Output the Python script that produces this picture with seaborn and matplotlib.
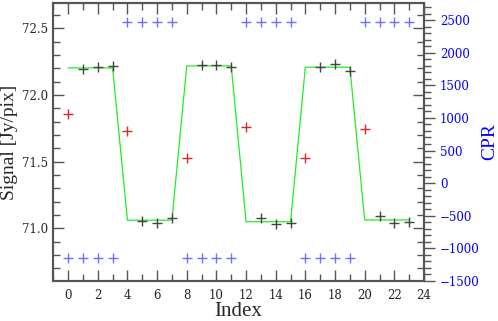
import numpy as np
import pandas as pd
import seaborn as sns
import matplotlib.pyplot as plt
from matplotlib.ticker import MultipleLocator

# data
signal_idx = [1, 2, 3, 5, 6, 7, 9, 10, 11, 13, 14, 15, 17, 18, 19, 21, 22, 23]
signal_val = [72.194, 72.209, 72.220, 71.058, 71.040, 71.078,
              72.224, 72.224, 72.212, 71.076, 71.033, 71.043,
              72.207, 72.232, 72.179, 71.093, 71.040, 71.048]
switch_idx = [0, 4, 8, 12, 16, 20]
switch_val = [71.859, 71.728, 71.531, 71.759, 71.528, 71.744]
model_idx = list(range(24))
model_val = [72.204, 72.204, 72.204, 72.204, 71.061, 71.061, 71.061, 71.061,
             72.219, 72.219, 72.219, 72.219, 71.050, 71.050, 71.050, 71.050,
             72.209, 72.209, 72.209, 72.209, 71.063, 71.063, 71.063, 71.063]
cpr_idx = list(range(24))
cpr_val = [-1147, -1147, -1147, -1147, 2470, 2470, 2470, 2470,
           -1147, -1147, -1147, -1147, 2470, 2470, 2470, 2470,
           -1147, -1147, -1147, -1147, 2470, 2470, 2470, 2470]

sns.set_theme(style="ticks")
plt.rcParams['font.family'] = ['DejaVu Serif']
edge = '#555555'

fig = plt.figure(figsize=(4.98, 3.21), dpi=100)
ax = fig.add_axes([0.107, 0.1255, 0.7444, 0.864])
ax2 = ax.twinx()

sns.scatterplot(x=cpr_idx, y=cpr_val, ax=ax2, marker='+', s=50, linewidth=1,
                color='#7070ff', zorder=2)
sns.lineplot(x=model_idx, y=model_val, ax=ax, color='#22ee22', linewidth=0.9, zorder=3)
sns.scatterplot(x=signal_idx, y=signal_val, ax=ax, marker='+', s=50, linewidth=1,
                color='#444444', zorder=4)
sns.scatterplot(x=switch_idx, y=switch_val, ax=ax, marker='+', s=50, linewidth=1,
                color='#d82828', zorder=4)

ax.set_xlim(-1, 24)
ax.set_ylim(70.607, 72.688)
ax2.set_ylim(-1500, 2760)

ax.xaxis.set_major_locator(MultipleLocator(2))
ax.xaxis.set_minor_locator(MultipleLocator(1))
ax.yaxis.set_major_locator(MultipleLocator(0.5))
ax.yaxis.set_minor_locator(MultipleLocator(0.1))
ax2.yaxis.set_major_locator(MultipleLocator(500))
ax2.yaxis.set_minor_locator(MultipleLocator(100))

ax.tick_params(which='both', direction='in', top=True, right=False, color=edge,
               labelsize=8.5, labelcolor='#222222', width=1)
ax.tick_params(which='major', length=8)
ax.tick_params(which='minor', length=5)
ax.tick_params(axis='x', pad=6)
ax2.tick_params(which='both', direction='out', color=edge, labelsize=8.5,
                labelcolor='blue', width=1)
ax2.tick_params(which='major', length=8)
ax2.tick_params(which='minor', length=5)

# mirrored left ticks on the right spine
sec = ax.secondary_yaxis('right')
sec.yaxis.set_major_locator(MultipleLocator(0.5))
sec.yaxis.set_minor_locator(MultipleLocator(0.1))
sec.tick_params(which='both', direction='in', color=edge, labelright=False, width=1)
sec.tick_params(which='major', length=8)
sec.tick_params(which='minor', length=5)
sec.spines['right'].set_visible(False)

for a in (ax, ax2):
    for s in a.spines.values():
        s.set_color(edge)
        s.set_linewidth(1.5)

ax.set_xlabel('Index', fontsize=15, family='Liberation Serif', labelpad=0)
ax.set_ylabel('Signal [Jy/pix]', fontsize=14, family='Liberation Serif', labelpad=3)
ax2.set_ylabel('CPR', fontsize=14, family='Liberation Serif', color='blue', labelpad=1)

fig.savefig('out.png', dpi=100)
